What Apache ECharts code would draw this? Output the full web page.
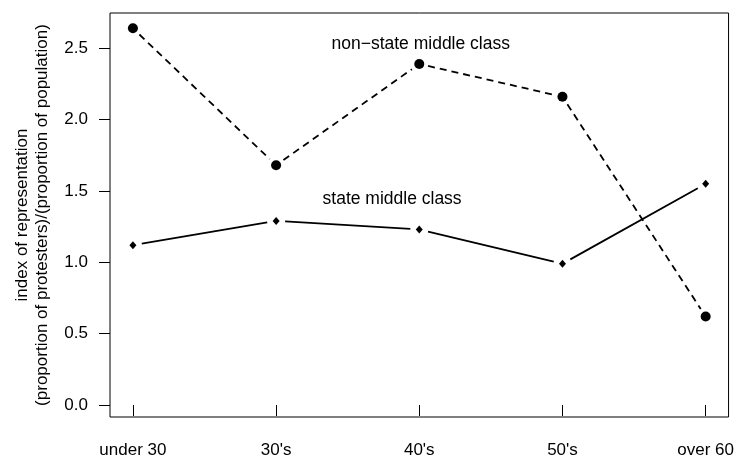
<!DOCTYPE html>
<html>
<head>
<meta charset="utf-8">
<script src="https://cdn.jsdelivr.net/npm/echarts@6/dist/echarts.min.js"></script>
<style>html,body{margin:0;padding:0;background:#fff}#c{width:737px;height:459px}</style>
</head>
<body>
<div id="c"></div>
<script>
var categories = ["under 30", "30's", "40's", "50's", "over 60"];
var nonStateValues = [2.64, 1.68, 2.39, 2.16, 0.62];
var stateValues = [1.12, 1.29, 1.23, 0.99, 1.55];
var yTicks = [0, 0.5, 1.0, 1.5, 2.0, 2.5];
var xTicks = [1, 2, 3, 4, 5];
var nonStateLabel = {text: "non\u2212state middle class", x: 3.01, y: 2.53};
var stateLabel = {text: "state middle class", x: 2.81, y: 1.44};

var FONT = "'Liberation Sans', Arial, Helvetica, sans-serif";

function segments(vals) {
  var out = [];
  for (var i = 0; i < vals.length - 1; i++) {
    out.push([i + 1, vals[i], i + 2, vals[i + 1]]);
  }
  return out;
}
function points(vals) {
  return vals.map(function (v, i) { return [i + 1, v]; });
}
function segRenderer(dash, gap) {
  return function (params, api) {
    var p1 = api.coord([api.value(0), api.value(1)]);
    var p2 = api.coord([api.value(2), api.value(3)]);
    var dx = p2[0] - p1[0], dy = p2[1] - p1[1];
    var len = Math.sqrt(dx * dx + dy * dy);
    var ux = dx / len, uy = dy / len;
    return {
      type: 'line',
      shape: {
        x1: p1[0] + ux * gap, y1: p1[1] + uy * gap,
        x2: p2[0] - ux * gap, y2: p2[1] - uy * gap
      },
      style: { stroke: '#000', lineWidth: 1.8, lineDash: dash, fill: null }
    };
  };
}

var chart = echarts.init(document.getElementById('c'), null, {renderer: 'canvas'});
chart.setOption({
  animation: false,
  backgroundColor: '#fff',
  grid: {left: 110, right: 7, top: 13, bottom: 42, show: true, borderColor: '#000', borderWidth: 1, backgroundColor: 'transparent'},
  xAxis: {
    type: 'value', min: 0.84, max: 5.16,
    splitLine: {show: false},
    axisLine: {show: false},
    axisTick: {show: true, length: 11, customValues: xTicks, lineStyle: {color: '#000', width: 1}},
    axisLabel: {customValues: xTicks, margin: 25, color: '#000', fontSize: 17, fontFamily: FONT,
      formatter: function (v) { return categories[Math.round(v) - 1]; }}
  },
  yAxis: {
    type: 'value', min: -0.084, max: 2.747,
    splitLine: {show: false},
    axisLine: {show: false},
    axisTick: {show: true, length: 11, customValues: yTicks, lineStyle: {color: '#000', width: 1}},
    axisLabel: {customValues: yTicks, margin: 22, color: '#000', fontSize: 17, fontFamily: FONT,
      formatter: function (v) { return v.toFixed(1); }},
    name: 'index of representation\n(proportion of protesters)/(proportion of population)',
    nameLocation: 'middle', nameRotate: 90, nameGap: 58,
    nameTextStyle: {color: '#000', fontSize: 17, fontFamily: FONT, lineHeight: 20}
  },
  series: [
    {
      type: 'custom', name: 'non-state middle class',
      renderItem: segRenderer([7, 5], 9),
      encode: {x: [0, 2], y: [1, 3]},
      data: segments(nonStateValues), silent: true, z: 2
    },
    {
      type: 'custom', name: 'state middle class',
      renderItem: segRenderer(null, 9),
      encode: {x: [0, 2], y: [1, 3]},
      data: segments(stateValues), silent: true, z: 2
    },
    {
      type: 'scatter', symbol: 'circle', symbolSize: 10,
      itemStyle: {color: '#000', opacity: 1}, data: points(nonStateValues), z: 3
    },
    {
      type: 'scatter', symbol: 'diamond', symbolSize: [7, 8],
      itemStyle: {color: '#000', opacity: 1}, data: points(stateValues), z: 3
    },
    {
      type: 'scatter', symbolSize: 0, silent: true,
      itemStyle: {opacity: 1},
      label: {show: true, position: 'inside', color: '#000', fontSize: 17.5, fontFamily: FONT,
        formatter: function (p) { return p.data[2]; }},
      data: [[nonStateLabel.x, nonStateLabel.y, nonStateLabel.text], [stateLabel.x, stateLabel.y, stateLabel.text]]
    }
  ]
});
</script>
</body>
</html>
